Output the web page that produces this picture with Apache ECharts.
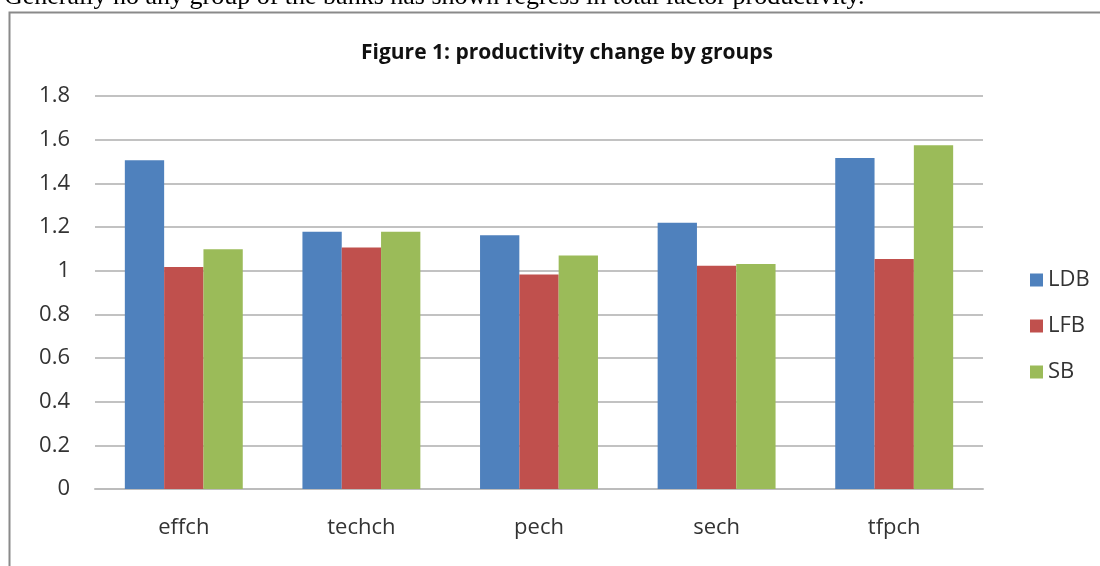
<!DOCTYPE html>
<html>
<head>
<meta charset="utf-8">
<script src="https://cdn.jsdelivr.net/npm/echarts@6/dist/echarts.min.js"></script>
<style>
  html, body { margin: 0; padding: 0; background: #fff; }
  #chart { width: 1100px; height: 566px; }
</style>
</head>
<body>
<div id="chart"></div>
<script>
const categories = ["effch", "techch", "pech", "sech", "tfpch"];
const ldbValues = [1.506, 1.178, 1.162, 1.220, 1.516];
const lfbValues = [1.017, 1.106, 0.982, 1.022, 1.053];
const sbValues = [1.098, 1.178, 1.069, 1.031, 1.574];
const yTicks = [0, 0.2, 0.4, 0.6, 0.8, 1, 1.2, 1.4, 1.6, 1.8];

const labelFont = "'Open Sans', sans-serif";
const chart = echarts.init(document.getElementById("chart"));

function makeSeries(name, data, color) {
  return {
    name,
    type: "bar",
    data,
    barGap: "0%",
    barCategoryGap: "33.6%",
    itemStyle: { color },
  };
}

chart.setOption({
  animation: false,
  title: {
    text: "Figure 1: productivity change by groups",
    left: 562,
    textAlign: "center",
    top: 38,
    textStyle: {
      fontFamily: labelFont,
      fontSize: 21,
      fontWeight: "bold",
      color: "#111",
    },
  },
  graphic: [
    {
      type: "text",
      left: 4,
      top: -16,
      style: {
        text: "Generally no any group of the banks has shown regress in total factor productivity.",
        font: "26px 'Liberation Serif', serif",
        fill: "#000",
      },
    },
    {
      type: "rect",
      shape: { x: 9.5, y: 12.5, width: 1100, height: 600 },
      style: { fill: "none", stroke: "#8a8a8a", lineWidth: 2 },
      z: -1,
    },
  ],
  legend: {
    orient: "vertical",
    left: 1025,
    top: 264,
    itemWidth: 13,
    itemHeight: 13,
    itemGap: 24,
    icon: "rect",
    textStyle: { fontFamily: labelFont, fontSize: 22, color: "#333" },
    data: ["LDB", "LFB", "SB"],
  },
  grid: { left: 95, right: 117, top: 96, bottom: 77 },
  xAxis: {
    type: "category",
    data: categories,
    axisLine: { lineStyle: { color: "#bcbcbc", width: 2 } },
    axisTick: { show: false },
    axisLabel: {
      fontFamily: labelFont,
      fontSize: 22,
      color: "#333",
      margin: 28,
    },
  },
  yAxis: {
    type: "value",
    min: yTicks[0],
    max: yTicks[yTicks.length - 1],
    interval: 0.2,
    axisLine: { show: false },
    axisTick: { show: false },
    splitLine: { lineStyle: { color: "#c2c2c2", width: 2 } },
    axisLabel: {
      fontFamily: labelFont,
      fontSize: 22,
      color: "#333",
      margin: 25,
      formatter: (v) => String(Math.round(v * 10) / 10),
    },
  },
  series: [
    makeSeries("LDB", ldbValues, "#4f81bd"),
    makeSeries("LFB", lfbValues, "#c0504d"),
    makeSeries("SB", sbValues, "#9bbb59"),
  ],
});
</script>
</body>
</html>
